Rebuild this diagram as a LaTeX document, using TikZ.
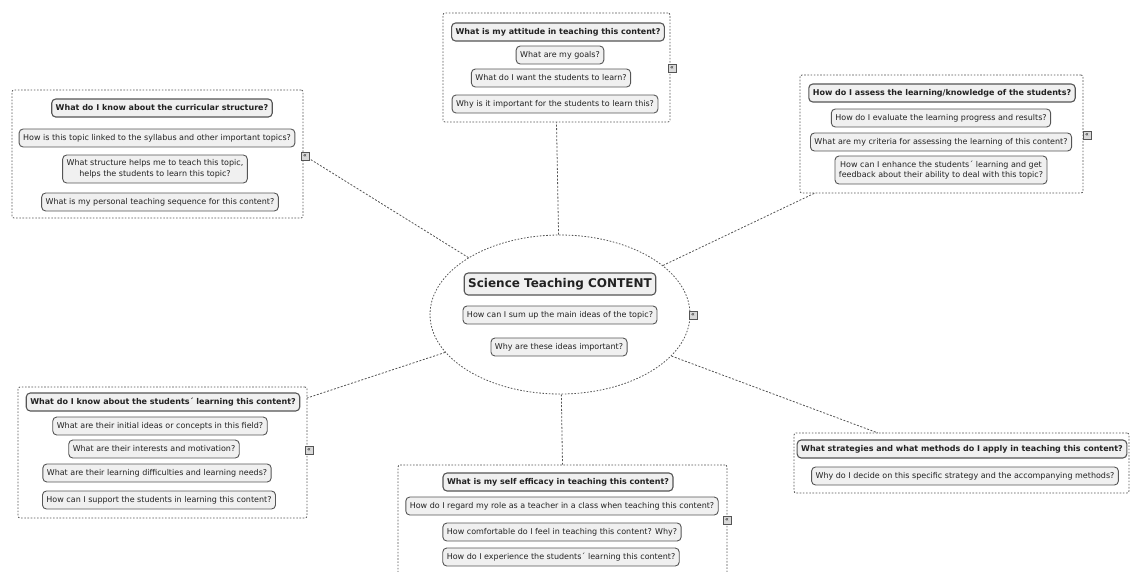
\documentclass[tikz,border=0pt]{standalone}
\usepackage{fontspec}
\setmainfont{DejaVu Sans}
\usetikzlibrary{shapes.geometric}
\definecolor{edge}{HTML}{555555}
\definecolor{boxfill}{HTML}{F0F0F0}
\definecolor{ink}{HTML}{222222}
\tikzset{
  q/.style={draw=edge, fill=boxfill, rounded corners=4pt, line width=0.9pt,
    text=ink, font=\fontsize{8}{10.5}\selectfont, inner xsep=4pt, inner ysep=2pt,
    minimum height=18pt, align=center},
  qh/.style={q, font=\bfseries\fontsize{8}{10.5}\selectfont, line width=1.1pt},
  qtwo/.style={q, minimum height=28pt},
  grp/.style={draw=edge, dash pattern=on 1.6pt off 1.6pt, line width=0.8pt,
    rounded corners=2pt, inner sep=0pt},
  link/.style={draw=edge, dash pattern=on 2pt off 1.6pt, line width=0.8pt},
  fold/.style={draw=edge, fill=gray!30, minimum size=8pt, inner sep=0pt,
    line width=0.5pt, font=\fontsize{6}{6}\selectfont},
}
\begin{document}
\begin{tikzpicture}[x=1pt,y=-1pt]
\useasboundingbox (0,0) rectangle (1131,571);
\clip (0,0) rectangle (1131,571);

% central topic
\node[grp, ellipse, minimum width=260pt, minimum height=159pt] (core) at (560,314.5) {};
\node[qh, font=\bfseries\fontsize{12}{14}\selectfont, minimum height=22pt] (title) at (560,284) {Science Teaching CONTENT};
\node[q] (c1) at (560,315) {How can I sum up the main ideas of the topic?};
\node[q] (c2) at (559,347) {Why are these ideas important?};
\node[fold] (fc) at (693,315) {«};

% attitude
\node[grp, minimum width=227pt, minimum height=109pt] (att) at (556.5,67.5) {};
\node[qh] (a0) at (558,32) {What is my attitude in teaching this content?};
\node[q] (a1) at (560,55) {What are my goals?};
\node[q] (a2) at (551,78) {What do I want the students to learn?};
\node[q] (a3) at (555,104) {Why is it important for the students to learn this?};
\node[fold] (fa) at (672,68) {«};

% curricular structure
\node[grp, minimum width=291pt, minimum height=128pt] (cur) at (157.5,154) {};
\node[qh] (k0) at (162,108) {What do I know about the curricular structure?};
\node[q] (k1) at (157,138) {How is this topic linked to the syllabus and other important topics?};
\node[qtwo] (k2) at (155,169) {What structure helps me to teach this topic,\\helps the students to learn this topic?};
\node[q] (k3) at (160,202) {What is my personal teaching sequence for this content?};
\node[fold] (fk) at (305,156) {«};

% assessment
\node[grp, minimum width=283pt, minimum height=118pt] (ass) at (941.5,134) {};
\node[qh] (s0) at (942,93) {How do I assess the learning/knowledge of the students?};
\node[q] (s1) at (941,118) {How do I evaluate the learning progress and results?};
\node[q] (s2) at (941,142) {What are my criteria for assessing the learning of this content?};
\node[qtwo] (s3) at (941,170) {How can I enhance the students´ learning and get\\feedback about their ability to deal with this topic?};
\node[fold] (fs) at (1087,135) {«};

% students' learning
\node[grp, minimum width=289pt, minimum height=131pt] (stu) at (162.5,452.5) {};
\node[qh] (l0) at (163,402) {What do I know about the students´ learning this content?};
\node[q] (l1) at (160,426) {What are their initial ideas or concepts in this field?};
\node[q] (l2) at (154,449) {What are their interests and motivation?};
\node[q] (l3) at (157,473) {What are their learning difficulties and learning needs?};
\node[q] (l4) at (159,500) {How can I support the students in learning this content?};
\node[fold] (fl) at (309,450) {«};

% self efficacy
\node[grp, minimum width=329pt, minimum height=135pt] (eff) at (562.5,532.5) {};
\node[qh] (e0) at (558,482) {What is my self efficacy in teaching this content?};
\node[q] (e1) at (562,506) {How do I regard my role as a teacher in a class when teaching this content?};
\node[q] (e2) at (562,532) {How comfortable do I feel in teaching this content? Why?};
\node[q] (e3) at (561,557) {How do I experience the students´ learning this content?};
\node[fold] (fe) at (727,520) {«};

% strategies and methods
\node[grp, minimum width=335pt, minimum height=60pt] (str) at (961.5,463) {};
\node[qh] (m0) at (962,449) {What strategies and what methods do I apply in teaching this content?};
\node[q] (m1) at (965,476) {Why do I decide on this specific strategy and the accompanying methods?};

% connectors
\coordinate (assIn) at (815,193);
\coordinate (strIn) at (878,433);
\coordinate (stuIn) at (307,398);
\draw[link] (core) -- (att.south);
\draw[link] (core) -- (fk);
\draw[link] (core) -- (assIn);
\draw[link] (core) -- (stuIn);
\draw[link] (core) -- (eff.north);
\draw[link] (core) -- (strIn);
\end{tikzpicture}
\end{document}
